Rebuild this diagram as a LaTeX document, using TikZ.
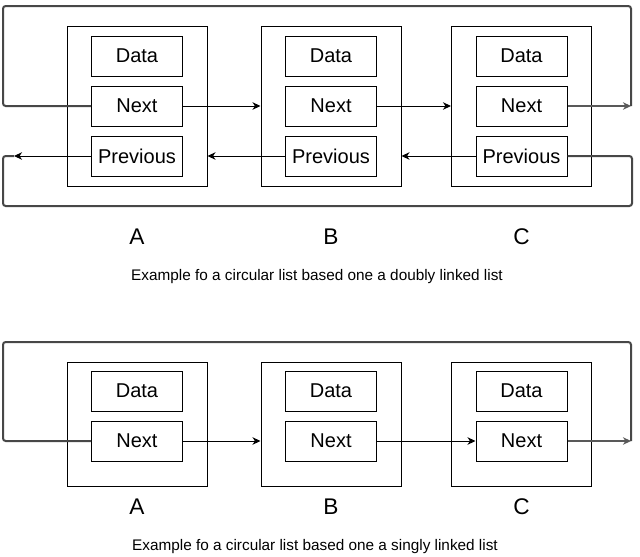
\documentclass[tikz,border=0pt]{standalone}
\usepackage{fontspec}
\setmainfont{Liberation Sans}
\usetikzlibrary{arrows.meta}

\begin{document}
\begin{tikzpicture}[
  x=0.75pt, y=-0.75pt,
  >={Stealth[length=6pt, width=5.6pt, inset=1.8pt]},
  cell/.style={draw, line width=0.75pt, minimum width=105pt, inner sep=0pt},
  field/.style={draw, line width=0.75pt, minimum width=68.25pt, minimum height=30pt,
                inner sep=0pt, font=\fontsize{15}{17}\selectfont},
  link/.style={->, line width=0.75pt},
  outlink/.style={->, line width=0.9pt, draw=black!65},
  wrap/.style={line width=1.5pt, draw=black!72, rounded corners=2pt},
  tag/.style={font=\fontsize{17}{19}\selectfont},
  caption/.style={font=\fontsize{11.5}{13}\selectfont},
]
\useasboundingbox (0,0) rectangle (640,557);

% top: circular list on a doubly linked list
\foreach \n/\x in {A/137,B/331,C/521.5} {
  \node[cell, minimum height=120pt] (out\n) at (\x,106) {};
  \node[field] (data\n) at (\x,56) {Data};
  \node[field] (next\n) at (\x,106) {Next};
  \node[field] (prev\n) at (\x,156) {Previous};
  \node[tag] (tag\n) at (\x,237) {\n};
}
\draw[link] (nextA.east) -- (outB.west);
\draw[link] (nextB.east) -- (outC.west);
\draw[link] (prevB.west) -- (prevB.west -| outA.east);
\draw[link] (prevC.west) -- (prevC.west -| outB.east);

\coordinate (endR) at (631,106);
\coordinate (endL) at (14,156);
\draw[outlink] (nextC.east) -- (endR);
\draw[wrap] (endR) |- (3,6) |- (nextA.west);
\draw[link] (prevA.west) -- (endL);
\draw[wrap] (prevC.east) -| (632,206) -| (3,156) -- (endL);

\node[caption] (capD) at (317,277) {Example fo a circular list based one a doubly linked list};

% bottom: circular list on a singly linked list
\foreach \n/\x in {A/137,B/331,C/521.5} {
  \node[cell, minimum height=93pt] (cell\n) at (\x,424) {};
  \node[field] (sdata\n) at (\x,391) {Data};
  \node[field] (snext\n) at (\x,441) {Next};
  \node[tag] (stag\n) at (\x,507) {\n};
}
\draw[link] (snextA.east) -- (snextA.east -| cellB.west);
\draw[link] (snextB.east) -- (snextC.west);

\coordinate (sendR) at (631,441);
\draw[outlink] (snextC.east) -- (sendR);
\draw[wrap] (sendR) |- (3,342) |- (snextA.west);

\node[caption] (capS) at (315,547) {Example fo a circular list based one a singly linked list};
\end{tikzpicture}
\end{document}
